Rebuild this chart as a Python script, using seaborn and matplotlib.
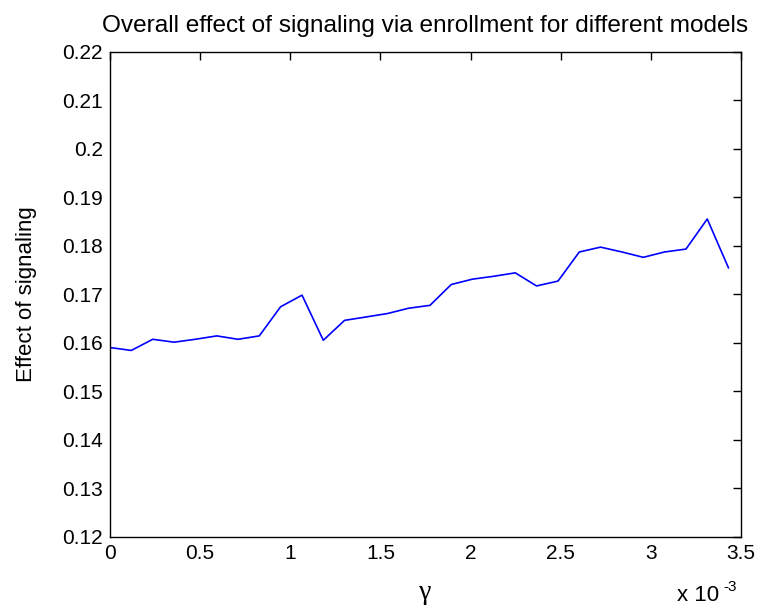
import numpy as np
import pandas as pd
import matplotlib
matplotlib.use("Agg")
import matplotlib.pyplot as plt
import seaborn as sns
from matplotlib.ticker import FuncFormatter, MultipleLocator

# gamma values (in units of 1e-3) and the resulting signaling effect
gamma_e3 = [0.000, 0.118, 0.237, 0.355, 0.473, 0.592, 0.710, 0.828, 0.946, 1.065,
            1.183, 1.301, 1.420, 1.538, 1.656, 1.775, 1.893, 2.011, 2.130, 2.248,
            2.366, 2.485, 2.603, 2.721, 2.840, 2.958, 3.076, 3.195, 3.313, 3.431]
effect = [0.1590, 0.1584, 0.1607, 0.1601, 0.1607, 0.1614, 0.1607, 0.1614, 0.1674, 0.1698,
          0.1605, 0.1646, 0.1653, 0.1660, 0.1671, 0.1677, 0.1720, 0.1731, 0.1737, 0.1744,
          0.1717, 0.1727, 0.1787, 0.1797, 0.1787, 0.1776, 0.1787, 0.1793, 0.1855, 0.1754]

df = pd.DataFrame({"gamma": np.array(gamma_e3) * 1e-3, "effect": effect})

sns.set_style("white")
plt.rcParams["font.family"] = ["Liberation Sans", "DejaVu Sans"]
plt.rcParams["text.color"] = "black"
plt.rcParams["axes.labelcolor"] = "black"


def ytick_fmt(v, pos):
    s = f"{v:.2f}"
    if s.endswith("0"):
        s = s[:-1]
    return s


fig = plt.figure(figsize=(7.62, 6.08), dpi=100)
ax = fig.add_axes([0.1444, 0.1173, 0.8280, 0.7977])

sns.lineplot(data=df, x="gamma", y="effect", ax=ax, color=(0, 0, 1),
             linewidth=1.2, estimator=None, sort=False)

ax.set_xlim(0, 3.5e-3)
ax.set_ylim(0.12, 0.22)
ax.xaxis.set_major_locator(MultipleLocator(0.5e-3))
ax.yaxis.set_major_locator(MultipleLocator(0.01))
ax.xaxis.set_major_formatter(FuncFormatter(lambda v, p: f"{v * 1e3:g}"))
ax.yaxis.set_major_formatter(FuncFormatter(ytick_fmt))

ax.tick_params(direction="in", length=5.5, width=1.0, top=True, right=True,
               labelsize=15, colors="black", pad=5)
for s in ax.spines.values():
    s.set_color("black")
    s.set_linewidth(1.0)

ax.set_xlabel("γ", fontsize=20, family=["Liberation Serif", "DejaVu Serif"])
ax.xaxis.set_label_coords(0.5, -0.09)
ax.set_ylabel("Effect of signaling", fontsize=16)
ax.yaxis.set_label_coords(-0.116, 0.5)
ax.set_title("Overall effect of signaling via enrollment for different models",
             fontsize=17.6, pad=14)

# exponent of the x axis, drawn in the lower right corner
fig.text(677 / 762, 1 - 606 / 608, "x 10", fontsize=16, ha="left", va="bottom")
fig.text(723 / 762, 1 - 580 / 608, "-3", fontsize=11, ha="left", va="top")

fig.savefig("out.png", dpi=100, facecolor="white")
